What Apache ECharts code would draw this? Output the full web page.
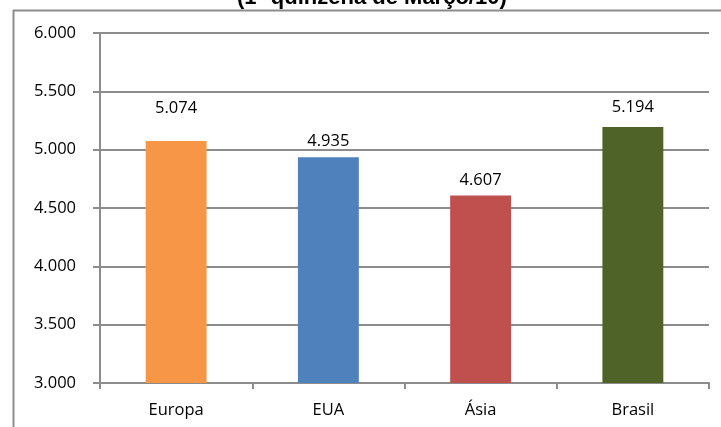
<!DOCTYPE html>
<html><head><meta charset="utf-8">
<script src="https://cdn.jsdelivr.net/npm/echarts@6/dist/echarts.min.js"></script>
<style>html,body{margin:0;padding:0;background:#fff}#c{width:721px;height:427px}</style>
</head><body><div id="c"></div>
<script>
const categories = ['Europa', 'EUA', 'Ásia', 'Brasil'];
const values = [5074, 4935, 4607, 5194];
const titleText = '(1ª quinzena de Março/10)';

// styling (not data)
const colors = ['#F79646', '#4F81BD', '#C0504D', '#4F6228'];
const labelShiftY = [-17, 0, 0, -4];

function fmt(v) { return (v / 1000).toFixed(3); }
const FONT = '"Open Sans", "Noto Sans", sans-serif';

const chart = echarts.init(document.getElementById('c'), null, {renderer: 'canvas'});
chart.setOption({
  animation: false,
  grid: {left: 100, right: 12, top: 33, bottom: 44},
  graphic: [
    {type: 'text', z: 10, style: {x: 237, y: -2, text: titleText, textAlign: 'left', textVerticalAlign: 'middle', verticalAlign: 'middle', font: 'bold 22px "Liberation Sans", Arial, sans-serif', fill: '#000'}},
    {type: 'rect', z: 11, shape: {x: 0, y: 11.5, width: 721, height: 416}, style: {fill: '#fff', stroke: null}},
    {type: 'line', z: 12, shape: {x1: 13, y1: 10.5, x2: 721, y2: 10.5}, style: {stroke: '#8c8c8c', lineWidth: 2}},
    {type: 'line', z: 12, shape: {x1: 13.5, y1: 10, x2: 13.5, y2: 427}, style: {stroke: '#8c8c8c', lineWidth: 2}}
  ],
  xAxis: {
    type: 'category', data: categories, z: 20,
    axisLine: {lineStyle: {color: '#8c8c8c', width: 2}},
    axisTick: {show: true, length: 6, lineStyle: {color: '#8c8c8c', width: 2}},
    axisLabel: {color: '#000', fontFamily: FONT, fontSize: 16.5, margin: 19}
  },
  yAxis: {
    type: 'value', min: 3000, max: 6000, interval: 500, z: 20,
    axisLine: {show: true, lineStyle: {color: '#8c8c8c', width: 2}},
    axisTick: {show: true, length: 7, lineStyle: {color: '#8c8c8c', width: 2}},
    splitLine: {lineStyle: {color: '#8c8c8c', width: 2}},
    axisLabel: {color: '#000', fontFamily: FONT, fontSize: 16.5, margin: 24, formatter: fmt}
  },
  series: [{
    type: 'bar', barWidth: '40%', z: 30,
    data: values.map((v, i) => ({value: v, itemStyle: {color: colors[i]}, label: {offset: [0, labelShiftY[i]]}})),
    label: {show: true, position: 'top', distance: 7, color: '#000', fontFamily: FONT, fontSize: 16.5, formatter: p => fmt(p.value)}
  }]
});
</script></body></html>
